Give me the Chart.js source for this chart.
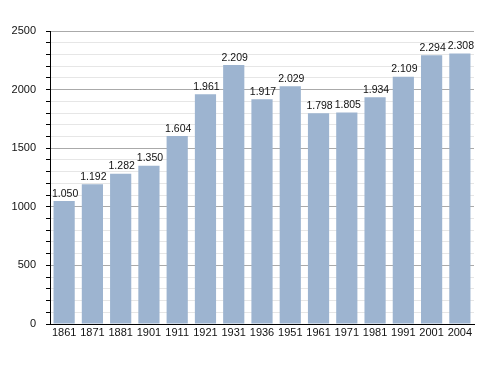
<!DOCTYPE html>
<html>
<head>
<meta charset="utf-8">
<script src="https://cdn.jsdelivr.net/npm/chart.js@4"></script>
<style>
  html, body { margin: 0; padding: 0; background: #fff; }
  #chart { display: block; }
</style>
</head>
<body>
<canvas id="chart" width="500" height="373"></canvas>
<script>
const years = ['1861', '1871', '1881', '1901', '1911', '1921', '1931', '1936', '1951', '1961', '1971', '1981', '1991', '2001', '2004'];
const population = [1050, 1192, 1282, 1350, 1604, 1961, 2209, 1917, 2029, 1798, 1805, 1934, 2109, 2294, 2308];
const yMax = 2500;

const barColor = 'rgb(157, 180, 208)';
const fontFamily = '"Liberation Sans", Arial, sans-serif';

// etiquetas sobre las barras, con punto de miles
const valueLabels = {
    id: 'valueLabels',
    afterDatasetsDraw(chart) {
        const ctx = chart.ctx;
        const meta = chart.getDatasetMeta(0);
        ctx.save();
        ctx.font = '10.5px ' + fontFamily;
        ctx.fillStyle = '#111';
        ctx.textAlign = 'center';
        ctx.textBaseline = 'bottom';
        meta.data.forEach(function(bar, i) {
            const v = population[i];
            const txt = Math.floor(v / 1000) + '.' + String(v % 1000).padStart(3, '0');
            ctx.fillText(txt, bar.x + 1, bar.y - 2);
        });
        ctx.restore();
    }
};

new Chart(document.getElementById('chart'), {
    type: 'bar',
    data: {
        labels: years,
        datasets: [{
            data: population,
            backgroundColor: barColor,
            borderWidth: 0,
            barPercentage: 0.75,
            categoryPercentage: 1
        }]
    },
    options: {
        responsive: false,
        animation: false,
        layout: {
            padding: { top: 31, right: 26, bottom: 30, left: 0 }
        },
        plugins: {
            legend: { display: false },
            tooltip: { enabled: false }
        },
        scales: {
            x: {
                offset: true,
                grid: { display: false, drawTicks: false, tickLength: 0 },
                border: { color: '#000', width: 1 },
                ticks: {
                    color: '#111',
                    font: { family: fontFamily, size: 11 },
                    maxRotation: 0,
                    autoSkip: false,
                    padding: 2
                },
                afterFit(scale) { scale.height = 19; }
            },
            y: {
                min: 0,
                max: yMax,
                grid: {
                    color: function(c) {
                        return c.tick && c.tick.value % 500 === 0 ? '#aaa' : '#e6e6e6';
                    },
                    tickColor: '#000',
                    tickLength: 4
                },
                border: { color: '#000', width: 1 },
                ticks: {
                    stepSize: 100,
                    autoSkip: false,
                    color: '#111',
                    font: { family: fontFamily, size: 11 },
                    padding: 10,
                    callback: function(v) {
                        return v % 500 === 0 ? v : '';
                    }
                },
                afterFit(scale) { scale.width = 50; }
            }
        }
    },
    plugins: [valueLabels]
});
</script>
</body>
</html>
